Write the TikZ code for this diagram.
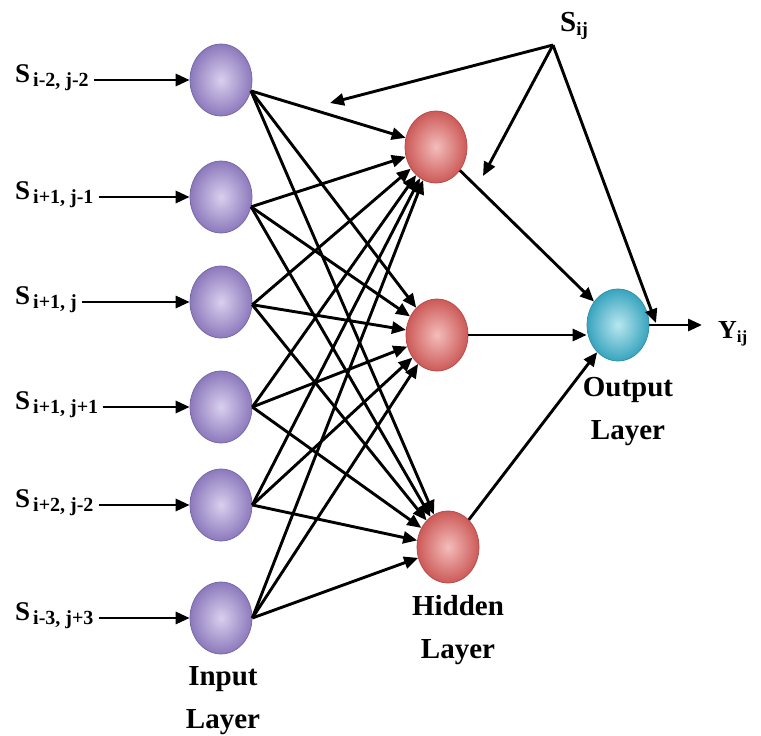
\documentclass[tikz,border=0pt]{standalone}
\usepackage{fontspec}
\setmainfont{Liberation Serif}
\usetikzlibrary{shapes.geometric,arrows.meta}
\definecolor{inOut}{HTML}{8C79BC}
\definecolor{inIn}{HTML}{D9D0EE}
\definecolor{inEdge}{HTML}{7464A6}
\definecolor{hidOut}{HTML}{CC5A58}
\definecolor{hidIn}{HTML}{F3BDBB}
\definecolor{hidEdge}{HTML}{B24A48}
\definecolor{outOut}{HTML}{38A4BE}
\definecolor{outIn}{HTML}{B9E7F0}
\definecolor{outEdge}{HTML}{2D8EA6}
\newcommand{\inlab}[1]{\fontsize{27}{29}\selectfont\bfseries S\hspace{3pt}\raisebox{-4pt}{\fontsize{20}{20}\selectfont #1}}
\begin{document}
\begin{tikzpicture}[x=1pt,y=-1pt,
  neuron/.style={ellipse, minimum width=62pt, minimum height=72pt, inner sep=0pt, line width=0.7pt},
  inneuron/.style={neuron, draw=inEdge, inner color=inIn, outer color=inOut},
  hidneuron/.style={neuron, draw=hidEdge, inner color=hidIn, outer color=hidOut},
  outneuron/.style={neuron, draw=outEdge, inner color=outIn, outer color=outOut},
  conn/.style={line width=2.9pt, -{Triangle[length=14pt,width=12pt]}},
  lab/.style={inner sep=1pt, anchor=west},
  layerlab/.style={align=center, font=\fontsize{29}{43}\selectfont\bfseries, inner sep=0pt}
]
\useasboundingbox (0,0) rectangle (761,736);

% input layer
\node[inneuron] (i1) at (221,80) {};
\node[inneuron] (i2) at (221,197) {};
\node[inneuron] (i3) at (221,302) {};
\node[inneuron] (i4) at (221,407) {};
\node[inneuron] (i5) at (221,505) {};
\node[inneuron] (i6) at (221,618) {};

% hidden layer
\node[hidneuron] (h1) at (436,147) {};
\node[hidneuron] (h2) at (437,335) {};
\node[hidneuron] (h3) at (448,547) {};

% output
\node[outneuron] (out) at (618,325) {};

% input labels
\node[lab] (l1) at (14,78) {\inlab{i-2, j-2}};
\node[lab] (l2) at (14,195) {\inlab{i+1, j-1}};
\node[lab] (l3) at (14,300) {\inlab{i+1, j}};
\node[lab] (l4) at (14,405) {\inlab{i+1, j+1}};
\node[lab] (l5) at (14,503) {\inlab{i+2, j-2}};
\node[lab] (l6) at (14,616) {\inlab{i-3, j+3}};

\foreach \k in {1,...,6}{
  \draw[conn] ([xshift=4pt]l\k.east |- i\k) -- (i\k);
}

% start points of the fan-out on each input neuron
\coordinate (o1) at (i1.-20);
\coordinate (o2) at (i2.-18);
\coordinate (o3) at (i3.-5);
\coordinate (o4) at (i4.0);
\coordinate (o5) at (i5.0);
\coordinate (o6) at (i6.0);

% full connections input -> hidden
\foreach \k in {1,...,6}{
  \foreach \h in {1,2,3}{
    \draw[conn] (o\k) -- (h\h);
  }
}

% hidden -> output
\draw[conn] (h1) -- (out);
\draw[conn] (h2.east) -- (h2.east -| out.west);
\draw[conn] (h3) -- (out);

% output -> Yij
\node[inner sep=0pt, anchor=west] (yij) at (718,334) {\fontsize{26}{28}\selectfont\bfseries Y\raisebox{-4pt}{\fontsize{17}{17}\selectfont ij}};
\draw[conn] (out.east) -- ([xshift=-16pt]yij.west |- out.east);

% Sij
\node[inner sep=0pt] (sij) at (574,26) {\fontsize{29}{30}\selectfont\bfseries S\raisebox{-4pt}{\fontsize{19}{19}\selectfont ij}};
\coordinate (sa) at (553,45);
\coordinate (sl) at (330,103);
\coordinate (sh) at (483,176);
\coordinate (so) at (656,323);
\draw[conn] (sa) -- (sl);
\draw[conn] (sa) -- (sh);
\draw[conn] (sa) -- (so);

% layer labels
\node[layerlab] (inl) at (223,701) {Input\\Layer};
\node[layerlab] (hidl) at (458,630) {Hidden\\Layer};
\node[layerlab] (outl) at (628,412) {Output\\Layer};
\end{tikzpicture}
\end{document}
